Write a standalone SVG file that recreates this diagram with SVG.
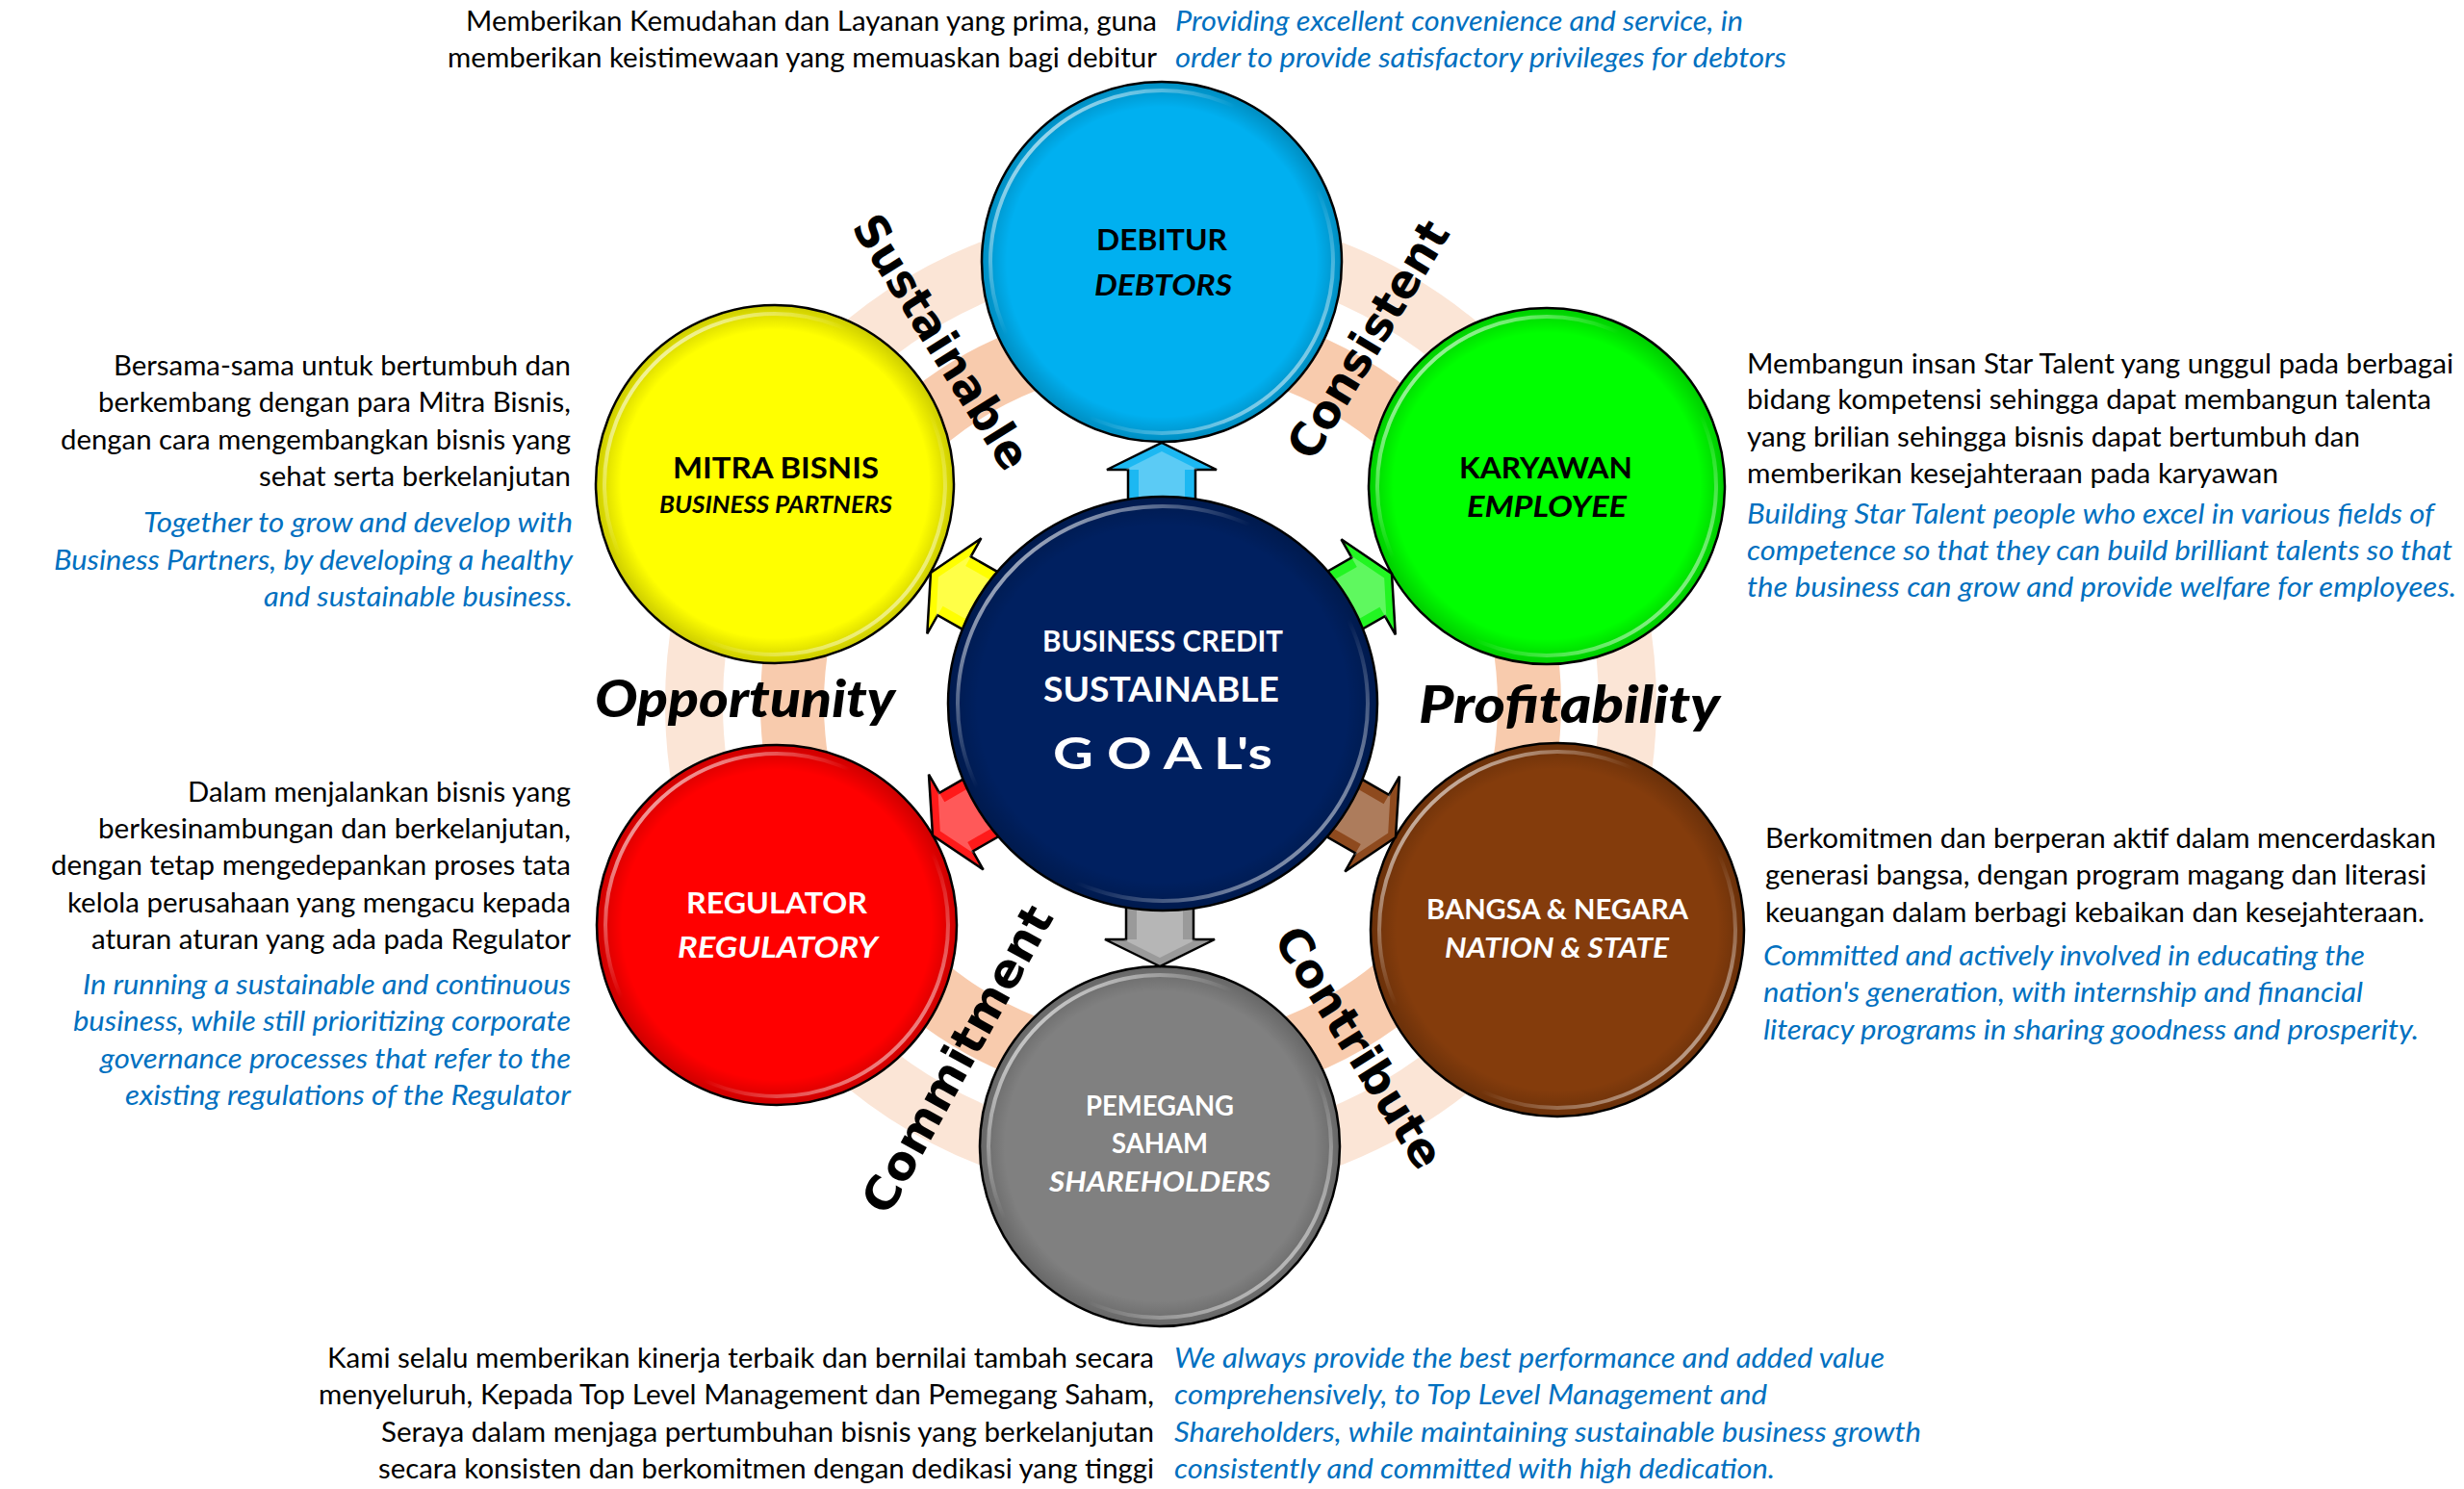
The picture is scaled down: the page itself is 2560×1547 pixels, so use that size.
<svg xmlns="http://www.w3.org/2000/svg" width="2560" height="1547" viewBox="0 0 2560 1547">
<style>
.bk{font-family:Lato,"Open Sans","Liberation Sans",sans-serif;font-size:29px;fill:#000}
.bl{font-family:Lato,"Open Sans","Liberation Sans",sans-serif;font-size:29px;font-style:italic;fill:#0070C0}
.nt{font-family:Lato,"Open Sans","Liberation Sans",sans-serif;font-weight:bold;font-size:31px}
.ni{font-family:Lato,"Open Sans","Liberation Sans",sans-serif;font-weight:bold;font-style:italic;font-size:31px}
.lab{font-family:"DejaVu Sans",Verdana,sans-serif;font-weight:bold;font-size:48px;fill:#000}
.big{font-family:Lato,"Open Sans","Liberation Sans",sans-serif;font-weight:900;font-style:italic;font-size:54px;fill:#000}
.ct{font-family:Lato,"Open Sans","Liberation Sans",sans-serif;font-weight:bold;fill:#fff}
.w{fill:#fff}
.edge{stroke:#000;stroke-width:2.5}
.hl{fill:none;stroke:url(#hlg);stroke-width:4}
.arr{stroke:#000;stroke-width:2.5;stroke-linejoin:miter}
.gl{fill:#fff;opacity:.28}
</style>
<defs>
<linearGradient id="hlg" x1="0" y1="0" x2="1" y2="1">
<stop offset="0" stop-color="#fff" stop-opacity=".95"/>
<stop offset=".38" stop-color="#fff" stop-opacity="0"/>
<stop offset=".62" stop-color="#fff" stop-opacity="0"/>
<stop offset="1" stop-color="#fff" stop-opacity=".8"/>
</linearGradient>
<radialGradient id="shade" cx=".5" cy=".5" r=".5">
<stop offset=".86" stop-color="#000" stop-opacity="0"/>
<stop offset="1" stop-color="#000" stop-opacity=".2"/>
</radialGradient>
<path id="arrow" d="M0,0 L57,28 L35,28 L35,66 L-35,66 L-35,28 L-57,28 Z"/>
<path id="glare" d="M0,9 L38,28 L24,28 L24,62 L-24,62 L-24,28 L-38,28 Z"/>
</defs>
<rect width="2560" height="1547" fill="#fff"/>

<g id="ring">
<circle cx="1206" cy="731" r="485" fill="none" stroke="#FBE5D6" stroke-width="60"/>
<circle cx="1206" cy="731" r="383" fill="none" stroke="#F8CBAD" stroke-width="66"/>
</g>

<g id="node-debitur">
<circle cx="1207" cy="272" r="187" fill="#00B0F0" class="edge"/>
<circle cx="1207" cy="272" r="187" fill="url(#shade)"/>
<circle cx="1207" cy="272" r="178" class="hl"/>
<text class="nt" x="1139" y="260" textLength="136" lengthAdjust="spacingAndGlyphs">DEBITUR</text>
<text class="ni" x="1137" y="307" textLength="143" lengthAdjust="spacingAndGlyphs">DEBTORS</text>
<text class="bk" x="484" y="32" textLength="718" lengthAdjust="spacingAndGlyphs">Memberikan Kemudahan dan Layanan yang prima, guna</text>
<text class="bk" x="465" y="70" textLength="737" lengthAdjust="spacingAndGlyphs">memberikan keistimewaan yang memuaskan bagi debitur</text>
<text class="bl" x="1221" y="32" textLength="590" lengthAdjust="spacingAndGlyphs">Providing excellent convenience and service, in</text>
<text class="bl" x="1221" y="70" textLength="635" lengthAdjust="spacingAndGlyphs">order to provide satisfactory privileges for debtors</text>
</g>

<g id="node-mitra">
<circle cx="805" cy="503" r="186" fill="#FFFF00" class="edge"/>
<circle cx="805" cy="503" r="186" fill="url(#shade)"/>
<circle cx="805" cy="503" r="177" class="hl"/>
<text class="nt" x="699" y="497" textLength="214" lengthAdjust="spacingAndGlyphs">MITRA BISNIS</text>
<text class="ni" x="685" y="533" textLength="242" lengthAdjust="spacingAndGlyphs" style="font-size:25px">BUSINESS PARTNERS</text>
<text class="bk" x="118" y="390" textLength="475" lengthAdjust="spacingAndGlyphs">Bersama-sama untuk bertumbuh dan</text>
<text class="bk" x="102" y="428" textLength="491" lengthAdjust="spacingAndGlyphs">berkembang dengan para Mitra Bisnis,</text>
<text class="bk" x="63" y="467" textLength="530" lengthAdjust="spacingAndGlyphs">dengan cara mengembangkan bisnis yang</text>
<text class="bk" x="269" y="505" textLength="324" lengthAdjust="spacingAndGlyphs">sehat serta berkelanjutan</text>
<text class="bl" x="149" y="553" textLength="446" lengthAdjust="spacingAndGlyphs">Together to grow and develop with</text>
<text class="bl" x="56" y="592" textLength="539" lengthAdjust="spacingAndGlyphs">Business Partners, by developing a healthy</text>
<text class="bl" x="274" y="630" textLength="321" lengthAdjust="spacingAndGlyphs">and sustainable business.</text>
</g>

<g id="node-karyawan">
<circle cx="1607" cy="505" r="185" fill="#00FF00" class="edge"/>
<circle cx="1607" cy="505" r="185" fill="url(#shade)"/>
<circle cx="1607" cy="505" r="176" class="hl"/>
<text class="nt" x="1516" y="497" textLength="180" lengthAdjust="spacingAndGlyphs">KARYAWAN</text>
<text class="ni" x="1524" y="537" textLength="166" lengthAdjust="spacingAndGlyphs">EMPLOYEE</text>
<text class="bk" x="1815" y="388" textLength="734" lengthAdjust="spacingAndGlyphs">Membangun insan Star Talent yang unggul pada berbagai</text>
<text class="bk" x="1815" y="425" textLength="711" lengthAdjust="spacingAndGlyphs">bidang kompetensi sehingga dapat membangun talenta</text>
<text class="bk" x="1815" y="464" textLength="637" lengthAdjust="spacingAndGlyphs">yang brilian sehingga bisnis dapat bertumbuh dan</text>
<text class="bk" x="1815" y="502" textLength="552" lengthAdjust="spacingAndGlyphs">memberikan kesejahteraan pada karyawan</text>
<text class="bl" x="1815" y="544" textLength="714" lengthAdjust="spacingAndGlyphs">Building Star Talent people who excel in various fields of</text>
<text class="bl" x="1815" y="582" textLength="733" lengthAdjust="spacingAndGlyphs">competence so that they can build brilliant talents so that</text>
<text class="bl" x="1815" y="620" textLength="737" lengthAdjust="spacingAndGlyphs">the business can grow and provide welfare for employees.</text>
</g>

<g id="node-regulator">
<circle cx="807" cy="961" r="187" fill="#FF0000" class="edge"/>
<circle cx="807" cy="961" r="187" fill="url(#shade)"/>
<circle cx="807" cy="961" r="178" class="hl"/>
<text class="nt w" x="713" y="949" textLength="188" lengthAdjust="spacingAndGlyphs">REGULATOR</text>
<text class="ni w" x="704" y="995" textLength="208" lengthAdjust="spacingAndGlyphs">REGULATORY</text>
<text class="bk" x="195" y="833" textLength="398" lengthAdjust="spacingAndGlyphs">Dalam menjalankan bisnis yang</text>
<text class="bk" x="102" y="871" textLength="491" lengthAdjust="spacingAndGlyphs">berkesinambungan dan berkelanjutan,</text>
<text class="bk" x="53" y="909" textLength="540" lengthAdjust="spacingAndGlyphs">dengan tetap mengedepankan proses tata</text>
<text class="bk" x="70" y="948" textLength="523" lengthAdjust="spacingAndGlyphs">kelola perusahaan yang mengacu kepada</text>
<text class="bk" x="95" y="986" textLength="498" lengthAdjust="spacingAndGlyphs">aturan aturan yang ada pada Regulator</text>
<text class="bl" x="86" y="1033" textLength="507" lengthAdjust="spacingAndGlyphs">In running a sustainable and continuous</text>
<text class="bl" x="76" y="1071" textLength="517" lengthAdjust="spacingAndGlyphs">business, while still prioritizing corporate</text>
<text class="bl" x="104" y="1110" textLength="489" lengthAdjust="spacingAndGlyphs">governance processes that refer to the</text>
<text class="bl" x="130" y="1148" textLength="463" lengthAdjust="spacingAndGlyphs">existing regulations of the Regulator</text>
</g>

<g id="node-bangsa">
<circle cx="1618" cy="966" r="194" fill="#843C0C" class="edge"/>
<circle cx="1618" cy="966" r="194" fill="url(#shade)"/>
<circle cx="1618" cy="966" r="185" class="hl"/>
<text class="nt w" x="1482" y="955" textLength="272" lengthAdjust="spacingAndGlyphs" style="font-size:29px">BANGSA &amp; NEGARA</text>
<text class="ni w" x="1501" y="995" textLength="233" lengthAdjust="spacingAndGlyphs" style="font-size:29px">NATION &amp; STATE</text>
<text class="bk" x="1834" y="881" textLength="697" lengthAdjust="spacingAndGlyphs">Berkomitmen dan berperan aktif dalam mencerdaskan</text>
<text class="bk" x="1834" y="919" textLength="687" lengthAdjust="spacingAndGlyphs">generasi bangsa, dengan program magang dan literasi</text>
<text class="bk" x="1834" y="958" textLength="685" lengthAdjust="spacingAndGlyphs">keuangan dalam berbagi kebaikan dan kesejahteraan.</text>
<text class="bl" x="1832" y="1003" textLength="625" lengthAdjust="spacingAndGlyphs">Committed and actively involved in educating the</text>
<text class="bl" x="1832" y="1041" textLength="623" lengthAdjust="spacingAndGlyphs">nation's generation, with internship and financial</text>
<text class="bl" x="1832" y="1080" textLength="681" lengthAdjust="spacingAndGlyphs">literacy programs in sharing goodness and prosperity.</text>
</g>

<g id="node-pemegang">
<circle cx="1205" cy="1191" r="187" fill="#808080" class="edge"/>
<circle cx="1205" cy="1191" r="187" fill="url(#shade)"/>
<circle cx="1205" cy="1191" r="178" class="hl"/>
<text class="nt w" x="1128" y="1159" textLength="154" lengthAdjust="spacingAndGlyphs" style="font-size:28px">PEMEGANG</text>
<text class="nt w" x="1155" y="1198" textLength="100" lengthAdjust="spacingAndGlyphs" style="font-size:28px">SAHAM</text>
<text class="ni w" x="1090" y="1238" textLength="230" lengthAdjust="spacingAndGlyphs" style="font-size:29px">SHAREHOLDERS</text>
<text class="bk" x="340" y="1421" textLength="859" lengthAdjust="spacingAndGlyphs">Kami selalu memberikan kinerja terbaik dan bernilai tambah secara</text>
<text class="bk" x="331" y="1459" textLength="868" lengthAdjust="spacingAndGlyphs">menyeluruh, Kepada Top Level Management dan Pemegang Saham,</text>
<text class="bk" x="396" y="1498" textLength="803" lengthAdjust="spacingAndGlyphs">Seraya dalam menjaga pertumbuhan bisnis yang berkelanjutan</text>
<text class="bk" x="393" y="1536" textLength="806" lengthAdjust="spacingAndGlyphs">secara konsisten dan berkomitmen dengan dedikasi yang tinggi</text>
<text class="bl" x="1220" y="1421" textLength="738" lengthAdjust="spacingAndGlyphs">We always provide the best performance and added value</text>
<text class="bl" x="1220" y="1459" textLength="616" lengthAdjust="spacingAndGlyphs">comprehensively, to Top Level Management and</text>
<text class="bl" x="1220" y="1498" textLength="776" lengthAdjust="spacingAndGlyphs">Shareholders, while maintaining sustainable business growth</text>
<text class="bl" x="1220" y="1536" textLength="624" lengthAdjust="spacingAndGlyphs">consistently and committed with high dedication.</text>
</g>

<g id="connectors">
<g transform="translate(1207,460)"><use href="#arrow" class="arr" fill="#1CB8F2"/><use href="#glare" class="gl"/></g>
<g transform="translate(967,595) rotate(-60.5)"><use href="#arrow" class="arr" fill="#FFFF00"/><use href="#glare" class="gl"/></g>
<g transform="translate(1446,596) rotate(60.4)"><use href="#arrow" class="arr" fill="#22F522"/><use href="#glare" class="gl"/></g>
<g transform="translate(969,868) rotate(-119.8)"><use href="#arrow" class="arr" fill="#FF1A1A"/><use href="#glare" class="gl"/></g>
<g transform="translate(1450,870) rotate(119.8)"><use href="#arrow" class="arr" fill="#8E4A1E"/><use href="#glare" class="gl"/></g>
<g transform="translate(1205,1004) rotate(180)"><use href="#arrow" class="arr" fill="#9A9A9A"/><use href="#glare" class="gl"/></g>
</g>

<g id="node-center">
<ellipse cx="1208" cy="731" rx="223" ry="215" fill="#002060" class="edge"/>
<ellipse cx="1208" cy="731" rx="223" ry="215" fill="url(#shade)"/>
<ellipse cx="1208" cy="731" rx="213" ry="205" class="hl"/>
<text class="ct" x="1083" y="677" textLength="250" lengthAdjust="spacingAndGlyphs" style="font-size:30px">BUSINESS CREDIT</text>
<text class="ct" x="1084" y="729" textLength="245" lengthAdjust="spacingAndGlyphs" style="font-size:37px">SUSTAINABLE</text>
<text class="ct" x="1094" y="799" textLength="228" lengthAdjust="spacingAndGlyphs" style="font-size:46px">G O A L's</text>
</g>

<g id="arc-labels">
<text class="lab" transform="translate(964,364) rotate(58)" x="-151" y="0" textLength="302" lengthAdjust="spacingAndGlyphs">Sustainable</text>
<text class="lab" transform="translate(1436,361) rotate(-59)" x="-140" y="0" textLength="279" lengthAdjust="spacingAndGlyphs">Consistent</text>
<text class="lab" transform="translate(1009,1109) rotate(-61)" x="-178" y="0" textLength="357" lengthAdjust="spacingAndGlyphs">Commitment</text>
<text class="lab" transform="translate(1398,1097) rotate(58)" x="-143" y="0" textLength="286" lengthAdjust="spacingAndGlyphs">Contribute</text>
<text class="big" x="618" y="745" textLength="312" lengthAdjust="spacingAndGlyphs">Opportunity</text>
<text class="big" x="1474" y="751" textLength="313" lengthAdjust="spacingAndGlyphs">Profitability</text>
</g>
</svg>
